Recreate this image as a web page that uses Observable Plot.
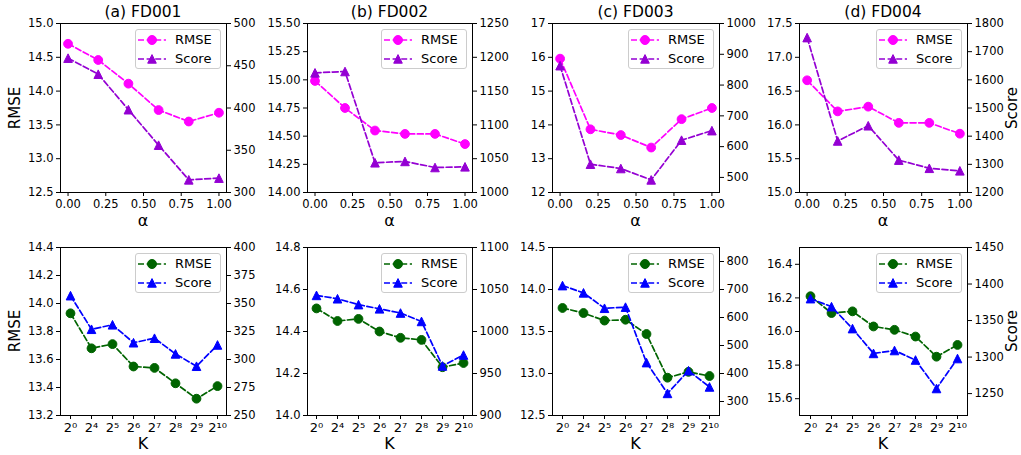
<!DOCTYPE html>
<html><head><meta charset="utf-8">
<script src="https://cdn.jsdelivr.net/npm/d3@7"></script>
<script src="https://cdn.jsdelivr.net/npm/@observablehq/plot@0.6"></script>
<style>
body{margin:0;background:#fff;font-family:"DejaVu Sans",sans-serif;}
#fig{position:relative;width:1021px;height:455px;overflow:hidden;background:#fff;}
.lbl{position:absolute;white-space:nowrap;color:#000;line-height:1;}
.legend{position:absolute;width:86px;height:40px;border:1px solid #cccccc;border-radius:3px;background:rgba(255,255,255,0.8);box-sizing:border-box;}
.legend .row{position:absolute;left:0;height:16px;width:100%;}
.legend svg{position:absolute;left:1px;top:1px;}
.legend span{position:absolute;left:39px;top:1px;font-size:13px;line-height:14px;color:#000;}
</style></head><body><div id="fig"></div><script>
// ---------- data ----------
const alphas = [0, 0.2, 0.4, 0.6, 0.8, 1.0];
const alphaTicks = [0, 0.25, 0.5, 0.75, 1.0];
const kLabels = ["2⁰","2⁴","2⁵","2⁶","2⁷","2⁸","2⁹","2¹⁰"];
const titles = ["(a) FD001","(b) FD002","(c) FD003","(d) FD004"];
const seriesNames = ["RMSE","Score"];

const alphaRmseFD001 = [14.70, 14.46, 14.11, 13.72, 13.55, 13.68];
const alphaScoreFD001 = [459, 440, 398, 356, 315, 317];
const alphaRmseFD002 = [14.99, 14.75, 14.55, 14.52, 14.52, 14.43];
const alphaScoreFD002 = [1177, 1179, 1044, 1046, 1037, 1038];
const alphaRmseFD003 = [15.96, 13.87, 13.70, 13.33, 14.17, 14.50];
const alphaScoreFD003 = [863, 543, 529, 492, 621, 652];
const alphaRmseFD004 = [16.66, 16.20, 16.27, 16.03, 16.03, 15.87];
const alphaScoreFD004 = [1750, 1383, 1437, 1315, 1286, 1277];

const kRmseFD001 = [13.93, 13.68, 13.71, 13.55, 13.54, 13.43, 13.32, 13.41];
const kScoreFD001 = [357, 327, 331, 315, 319, 305, 294, 313];
const kRmseFD002 = [14.51, 14.45, 14.46, 14.40, 14.37, 14.36, 14.23, 14.25];
const kScoreFD002 = [1043, 1039, 1032, 1027, 1022, 1012, 959, 972];
const kRmseFD003 = [13.78, 13.72, 13.63, 13.64, 13.47, 12.95, 13.02, 12.97];
const kScoreFD003 = [714, 688, 633, 637, 439, 329, 410, 352];
const kRmseFD004 = [16.21, 16.11, 16.12, 16.03, 16.01, 15.97, 15.85, 15.92];
const kScoreFD004 = [1380, 1369, 1339, 1305, 1309, 1296, 1257, 1298];

// tick values
const rmseTicksA1 = [12.5, 13.0, 13.5, 14.0, 14.5, 15.0];
const scoreTicksA1 = [300, 350, 400, 450, 500];
const rmseTicksB1 = [14.0, 14.25, 14.5, 14.75, 15.0, 15.25, 15.5];
const scoreTicksB1 = [1000, 1050, 1100, 1150, 1200, 1250];
const rmseTicksC1 = [12, 13, 14, 15, 16, 17];
const scoreTicksC1 = [500, 600, 700, 800, 900, 1000];
const rmseTicksD1 = [15.0, 15.5, 16.0, 16.5, 17.0, 17.5];
const scoreTicksD1 = [1200, 1300, 1400, 1500, 1600, 1700, 1800];
const rmseTicksA2 = [13.2, 13.4, 13.6, 13.8, 14.0, 14.2, 14.4];
const scoreTicksA2 = [250, 275, 300, 325, 350, 375, 400];
const rmseTicksB2 = [14.0, 14.2, 14.4, 14.6, 14.8];
const scoreTicksB2 = [900, 950, 1000, 1050, 1100];
const rmseTicksC2 = [12.5, 13.0, 13.5, 14.0, 14.5];
const scoreTicksC2 = [300, 400, 500, 600, 700, 800];
const rmseTicksD2 = [15.6, 15.8, 16.0, 16.2, 16.4];
const scoreTicksD2 = [1250, 1300, 1350, 1400, 1450];

// ---------- layout ----------
const fig = document.getElementById("fig");
const cols = [{l:60,r:226},{l:307,r:472},{l:552,r:719},{l:799,r:967}];
const rowPos = [{t:23,b:192},{t:247,b:415}];
const M = {l:45, r:45, t:5, b:40};
const FONT = "DejaVu Sans, sans-serif";
const colors = [["#ff00ff","#9400d3"],["#006400","#0000ff"]];

// matplotlib-like "^" marker (height == width)
const mplTriangle = {draw(ctx, size){ const h = Math.sqrt(size/Math.PI); ctx.moveTo(0,-h); ctx.lineTo(-h,h); ctx.lineTo(h,h); ctx.closePath(); }};

const panels = [
  {ci:0, ri:0, xs:alphas, rmse:alphaRmseFD001, score:alphaScoreFD001, rd:[12.5,15], sd:[300,500], rt:rmseTicksA1, st:scoreTicksA1, rf:".1f"},
  {ci:1, ri:0, xs:alphas, rmse:alphaRmseFD002, score:alphaScoreFD002, rd:[14,15.5], sd:[1000,1250], rt:rmseTicksB1, st:scoreTicksB1, rf:".2f"},
  {ci:2, ri:0, xs:alphas, rmse:alphaRmseFD003, score:alphaScoreFD003, rd:[12,17], sd:[451,1000], rt:rmseTicksC1, st:scoreTicksC1, rf:"d"},
  {ci:3, ri:0, xs:alphas, rmse:alphaRmseFD004, score:alphaScoreFD004, rd:[15,17.5], sd:[1200,1800], rt:rmseTicksD1, st:scoreTicksD1, rf:".1f"},
  {ci:0, ri:1, xs:kLabels, rmse:kRmseFD001, score:kScoreFD001, rd:[13.2,14.4], sd:[250,400], rt:rmseTicksA2, st:scoreTicksA2, rf:".1f"},
  {ci:1, ri:1, xs:kLabels, rmse:kRmseFD002, score:kScoreFD002, rd:[14,14.8], sd:[900,1100], rt:rmseTicksB2, st:scoreTicksB2, rf:".1f"},
  {ci:2, ri:1, xs:kLabels, rmse:kRmseFD003, score:kScoreFD003, rd:[12.5,14.5], sd:[250,850], rt:rmseTicksC2, st:scoreTicksC2, rf:".1f"},
  {ci:3, ri:1, xs:kLabels, rmse:kRmseFD004, score:kScoreFD004, rd:[15.5,16.5], sd:[1220,1450], rt:rmseTicksD2, st:scoreTicksD2, rf:".1f"}
];

function place(el, left, top){ el.style.position="absolute"; el.style.left=left+"px"; el.style.top=top+"px"; fig.appendChild(el); }
function label(text, cx, cy, size, rotate){
  const d = document.createElement("div"); d.className="lbl"; d.textContent=text; d.style.fontSize=size+"px";
  d.style.left=cx+"px"; d.style.top=cy+"px";
  d.style.transform = "translate(-50%,-50%)" + (rotate ? " rotate(-90deg)" : "");
  fig.appendChild(d);
}
function legend(ci, ri){
  const c = cols[ci], rp = rowPos[ri];
  const [c1, c2] = colors[ri];
  const div = document.createElement("div"); div.className="legend";
  div.style.left = (c.r - 5 - 86) + "px"; div.style.top = (rp.t + 6) + "px";
  const tri = "M15,2.6 L10.7,11.2 L19.3,11.2 Z";
  div.innerHTML =
    `<div class="row" style="top:2px"><svg width="32" height="14"><line x1="1" y1="7" x2="29" y2="7" stroke="${c1}" stroke-width="1.7" stroke-dasharray="6,2.6"/><circle cx="15" cy="7" r="4.5" fill="${c1}" stroke="${c1}"/></svg><span>${seriesNames[0]}</span></div>` +
    `<div class="row" style="top:21px"><svg width="32" height="14"><line x1="1" y1="7" x2="29" y2="7" stroke="${c2}" stroke-width="1.7" stroke-dasharray="6,2.6"/><path d="${tri}" fill="${c2}" stroke="${c2}"/></svg><span>${seriesNames[1]}</span></div>`;
  fig.appendChild(div);
}

for (const p of panels) {
  const c = cols[p.ci], rp = rowPos[p.ri];
  const fw = c.r - c.l, fh = rp.b - rp.t;
  const W = fw + M.l + M.r, H = fh + M.t + M.b;
  const [c1, c2] = colors[p.ri];
  const common = {width: W, height: H, marginLeft: M.l, marginRight: M.r, marginTop: M.t, marginBottom: M.b,
    style: {background: "transparent", fontFamily: FONT, fontSize: "11.5px", color: "black", overflow: "visible"}};
  const xScale = p.ri === 0 ? {type:"linear", domain:[-0.05, 1.05], axis:null}
                            : {type:"point", domain:kLabels, padding:0.35, axis:null};
  const data = p.xs.map((x, i) => ({x, rmse: p.rmse[i], score: p.score[i]}));
  const xTicks = p.ri === 0 ? alphaTicks : kLabels;
  const xFmt = p.ri === 0 ? d3.format(".2f") : (d => d);
  const ls = {strokeWidth: 1.7, strokeDasharray: "6,2.6"};

  const base = Plot.plot({...common, x: xScale, y: {domain: p.rd, axis: null},
    marks: [
      Plot.axisX(xTicks, {tickSize: 4, tickPadding: 3, tickFormat: xFmt, label: null, fontSize: p.ri === 0 ? 11.5 : 13}),
      Plot.axisY(p.rt, {anchor: "left", tickSize: 4, tickPadding: 3, tickFormat: d3.format(p.rf), label: null}),
      Plot.line(data, {x: "x", y: "rmse", stroke: c1, ...ls}),
      Plot.dot(data, {x: "x", y: "rmse", r: 4.4, fill: c1, stroke: c1, strokeWidth: 1, symbol: "circle"}),
      Plot.frame({stroke: "black", strokeWidth: 1})
    ]});
  place(base, c.l - M.l, rp.t - M.t);

  const twin = Plot.plot({...common, x: xScale, y: {domain: p.sd, axis: null},
    marks: [
      Plot.axisY(p.st, {anchor: "right", tickSize: 4, tickPadding: 3, tickFormat: d3.format("d"), label: null}),
      Plot.line(data, {x: "x", y: "score", stroke: c2, ...ls}),
      Plot.dot(data, {x: "x", y: "score", r: 4.3, fill: c2, stroke: c2, strokeWidth: 1, symbol: mplTriangle})
    ]});
  place(twin, c.l - M.l, rp.t - M.t);

  legend(p.ci, p.ri);
  const cx = (c.l + c.r) / 2;
  if (p.ri === 0) {
    label(titles[p.ci], cx, 13, 15.5, false);
    label("α", cx, 221, 16, false);
  } else {
    label("K", cx, 444, 16, false);
  }
}
label("RMSE", 15, (rowPos[0].t + rowPos[0].b) / 2, 15, true);
label("RMSE", 15, (rowPos[1].t + rowPos[1].b) / 2, 15, true);
label("Score", 1012, (rowPos[0].t + rowPos[0].b) / 2, 15, true);
label("Score", 1012, (rowPos[1].t + rowPos[1].b) / 2, 15, true);
</script></body></html>
